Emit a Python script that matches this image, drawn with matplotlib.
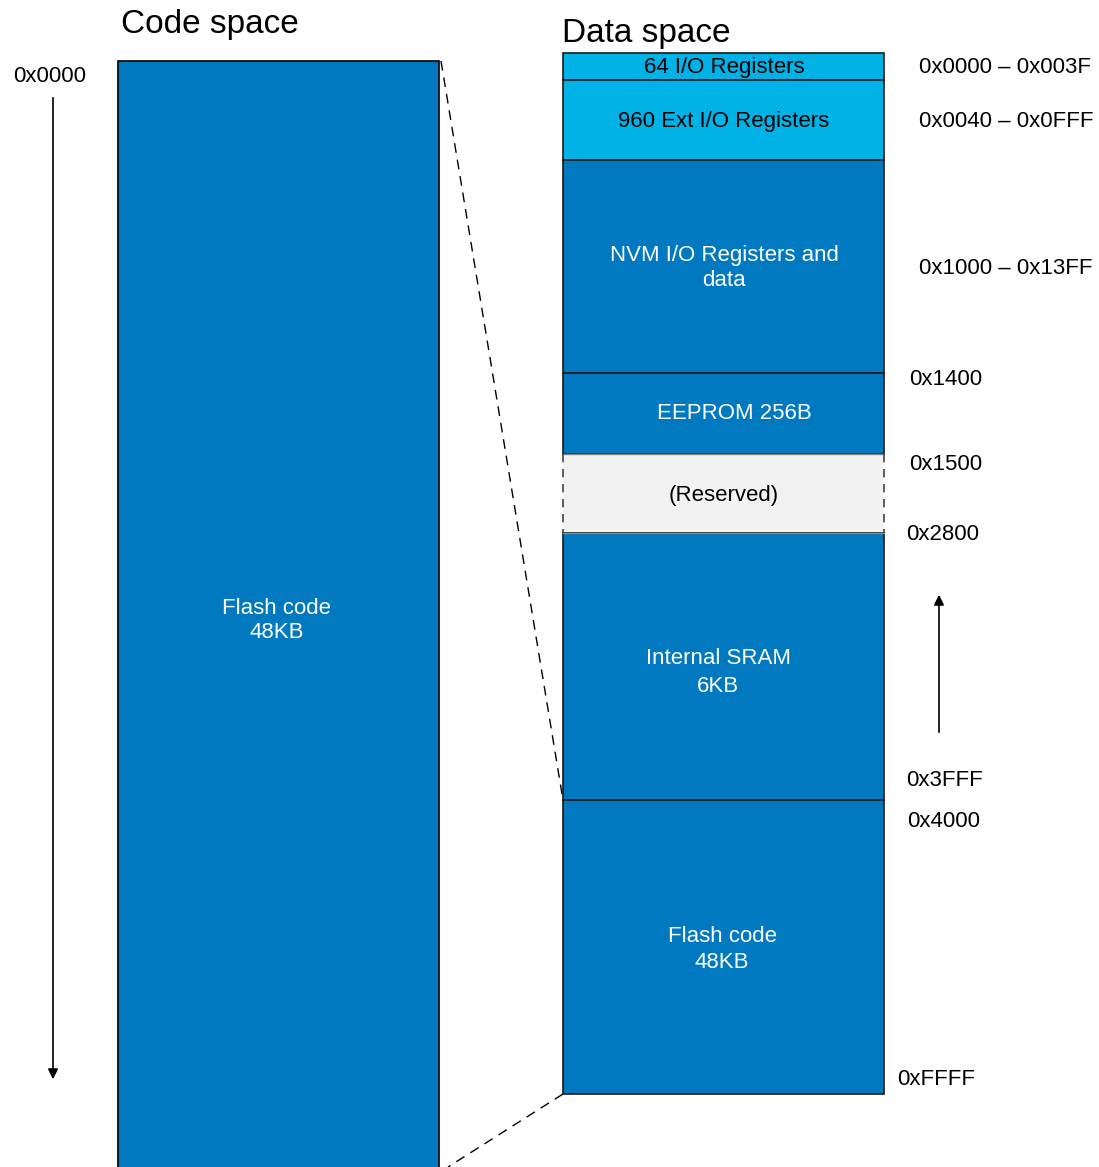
import matplotlib.pyplot as plt
from matplotlib.patches import Rectangle

plt.rcParams['font.family'] = ['Liberation Sans', 'DejaVu Sans']

# data space segments (diagram units, top -> bottom)
seg_names = ['64 I/O Registers', '960 Ext I/O Registers', 'NVM I/O Registers and\ndata',
             'EEPROM 256B', '(Reserved)', 'Internal SRAM\n6KB', 'Flash code\n48KB']
seg_top = [53, 80, 160, 373, 454, 533, 800]
seg_bot = [80, 160, 373, 454, 533, 800, 1094]
seg_kind = ['io', 'io', 'mem', 'mem', 'res', 'mem', 'mem']

# address labels on the right
addr_labels = ['0x0000 \u2013 0x003F', '0x0040 \u2013 0x0FFF', '0x1000 \u2013 0x13FF',
               '0x1400', '0x1500', '0x2800', '0x3FFF', '0x4000', '0xFFFF']
addr_x = [919, 919, 919, 909, 909, 906, 906, 907, 897]
addr_y = [65, 119, 266, 377, 462, 532, 778, 819, 1077]

colors = {'io': '#00B2E6', 'mem': '#0079C1', 'res': '#F2F2F2'}
txt_col = {'io': 'black', 'mem': 'white', 'res': 'black'}
dy = 2.5  # baseline nudge for centred text

fig = plt.figure(figsize=(10.99, 11.67), dpi=100)
ax = fig.add_axes([0, 0, 1, 1])
ax.set_xlim(0, 1099)
ax.set_ylim(1167, 0)
ax.axis('off')

# code space
ax.add_patch(Rectangle((118, 61), 321, 1120, facecolor=colors['mem'],
                       edgecolor='black', lw=1.2))
ax.text(277, 618 + dy, 'Flash code\n48KB', color='white', fontsize=16,
        ha='center', va='center', multialignment='center', linespacing=1.25)
ax.text(121, 22 + dy, 'Code space', fontsize=24, ha='left', va='center')
ax.text(13, 74 + dy, '0x0000', fontsize=16, ha='left', va='center')
ax.annotate('', xy=(53, 1082), xytext=(53, 95),
            arrowprops=dict(arrowstyle='-|>', color='black', lw=1.2, mutation_scale=15))

# data space
x0, w = 563, 321
for name, t, b, k in zip(seg_names, seg_top, seg_bot, seg_kind):
    if k == 'res':
        ax.add_patch(Rectangle((x0, t), w, b - t, facecolor=colors[k], edgecolor='none'))
        ax.plot([x0, x0 + w], [t, t], color='#888888', lw=1)
        ax.plot([x0, x0 + w], [b, b], color='#888888', lw=1)
        ax.plot([x0, x0], [t, b], color='#444444', lw=1.2, ls=(0, (5, 4)))
        ax.plot([x0 + w, x0 + w], [t, b], color='#444444', lw=1.2, ls=(0, (5, 4)))
    else:
        ax.add_patch(Rectangle((x0, t), w, b - t, facecolor=colors[k],
                               edgecolor='#1a1a1a', lw=1.2))
ls_map = {'Internal SRAM\n6KB': 1.5}
cx_map = {'EEPROM 256B': 734, 'Internal SRAM\n6KB': 718, 'Flash code\n48KB': 722}
cy_map = {'64 I/O Registers': 65, '960 Ext I/O Registers': 119,
          'NVM I/O Registers and\ndata': 266, 'EEPROM 256B': 411, '(Reserved)': 493,
          'Internal SRAM\n6KB': 670, 'Flash code\n48KB': 947}
for name, k in zip(seg_names, seg_kind):
    ax.text(cx_map.get(name, 724), cy_map[name] + dy, name, color=txt_col[k], fontsize=16,
            ha='center', va='center', multialignment='center',
            linespacing=ls_map.get(name, 1.25))
ax.text(562, 31 + dy, 'Data space', fontsize=24, ha='left', va='center')

for lab, x, y in zip(addr_labels, addr_x, addr_y):
    ax.text(x, y + dy, lab, fontsize=16, ha='left', va='center')

ax.annotate('', xy=(939, 592), xytext=(939, 735),
            arrowprops=dict(arrowstyle='-|>', color='black', lw=1.2, mutation_scale=15))

# zoom lines
ax.plot([441, 563], [61, 800], color='black', lw=1, ls=(0, (7, 5)))
ax.plot([563, 448], [1094, 1167], color='black', lw=1, ls=(0, (7, 5)))

fig.savefig('out.png', dpi=100)
